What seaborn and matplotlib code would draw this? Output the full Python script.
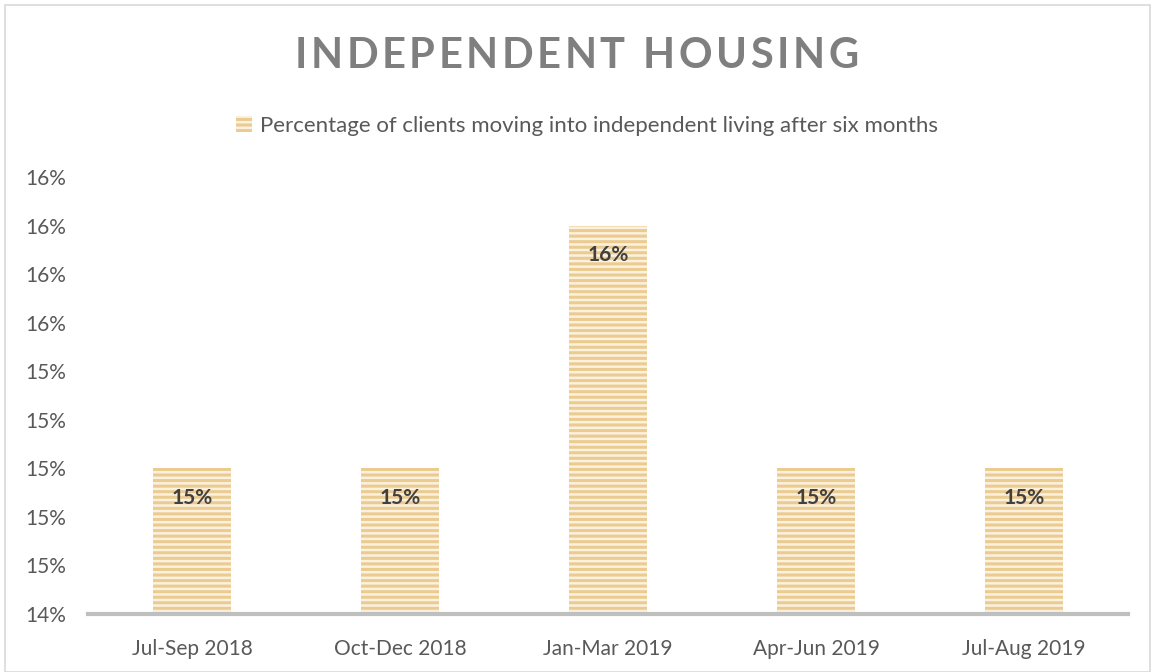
import matplotlib
matplotlib.use("Agg")
import matplotlib.pyplot as plt
import matplotlib.ticker as mticker
from matplotlib.patches import Rectangle, Patch
import seaborn as sns
import pandas as pd

# Données
periods = ["Jul-Sep 2018", "Oct-Dec 2018", "Jan-Mar 2019", "Apr-Jun 2019", "Jul-Aug 2019"]
pct_independent = [0.15, 0.15, 0.16, 0.15, 0.15]
series_name = "Percentage of clients moving into independent living after six months"
chart_title = "INDEPENDENT HOUSING"
y_ticks = [0.144, 0.146, 0.148, 0.150, 0.152, 0.154, 0.156, 0.158, 0.160, 0.162]

df = pd.DataFrame({"period": periods, "pct": pct_independent})

sns.set_theme(style="white")
plt.rcParams["font.family"] = ["Lato", "DejaVu Sans"]
plt.rcParams["hatch.linewidth"] = 2.2

bar_face = "#fbf1df"
bar_line = "#ebcb90"
txt_gray = "#595959"

fig = plt.figure(figsize=(11.53, 6.72), dpi=100)
ax = fig.add_axes([88 / 1153, 1 - 614 / 672, 1040 / 1153, (614 - 177) / 672])

sns.barplot(data=df, x="period", y="pct", ax=ax, width=0.375,
            color=bar_face, edgecolor=bar_line, linewidth=0, hatch="---")
for p in ax.patches:
    p.set_facecolor(bar_face)
    p.set_edgecolor(bar_line)
    p.set_hatch("---")

ax.set_ylim(0.144, 0.162)
ax.set_yticks(y_ticks)
ax.yaxis.set_major_formatter(mticker.FuncFormatter(lambda v, _: f"{v * 100:.0f}%"))
ax.set_xlabel("")
ax.set_ylabel("")
ax.tick_params(axis="both", length=0, labelsize=15, colors=txt_gray)
ax.tick_params(axis="x", pad=18)
ax.tick_params(axis="y", pad=16)
for s in ["top", "right", "left"]:
    ax.spines[s].set_visible(False)
ax.spines["bottom"].set_color("#bfbfbf")
ax.spines["bottom"].set_linewidth(3)

# Étiquettes des barres
for p, v in zip(ax.patches, pct_independent):
    ax.annotate(f"{v * 100:.0f}%", (p.get_x() + p.get_width() / 2, p.get_height()),
                xytext=(0, -21), textcoords="offset points", ha="center", va="center",
                fontsize=15, fontweight="bold", color="#404040")

# Titre avec espacement des lettres
renderer = fig.canvas.get_renderer()
spacing = 3.5  # px
title_kw = dict(fontsize=30, fontweight="bold", color="#7f7f7f", va="center", ha="left")
widths = []
for ch in chart_title:
    t = fig.text(0, 0, ch if ch != " " else "I", **title_kw)
    w = t.get_window_extent(renderer).width
    widths.append(w * (0.9 if ch == " " else 1.0))
    t.remove()
total = sum(widths) + spacing * (len(chart_title) - 1)
x = 1153 / 2 - total / 2
for ch, w in zip(chart_title, widths):
    if ch != " ":
        fig.text(x / 1153, 1 - 56 / 672, ch, **title_kw)
    x += w + spacing

leg_handle = Patch(facecolor=bar_face, edgecolor=bar_line, hatch="---", linewidth=0)
fig.legend([leg_handle], [series_name], loc="center", bbox_to_anchor=(0.509, 1 - 126 / 672),
           frameon=False, fontsize=16, labelcolor=txt_gray, handlelength=0.7,
           handleheight=0.7, handletextpad=0.35)

# Cadre extérieur
fig.patches.append(Rectangle((5 / 1153, 0), 1 - 8 / 1153, 1 - 5 / 672, transform=fig.transFigure,
                             fill=False, edgecolor="#d9d9d9", linewidth=1.2))

fig.savefig("out.png", dpi=100)
